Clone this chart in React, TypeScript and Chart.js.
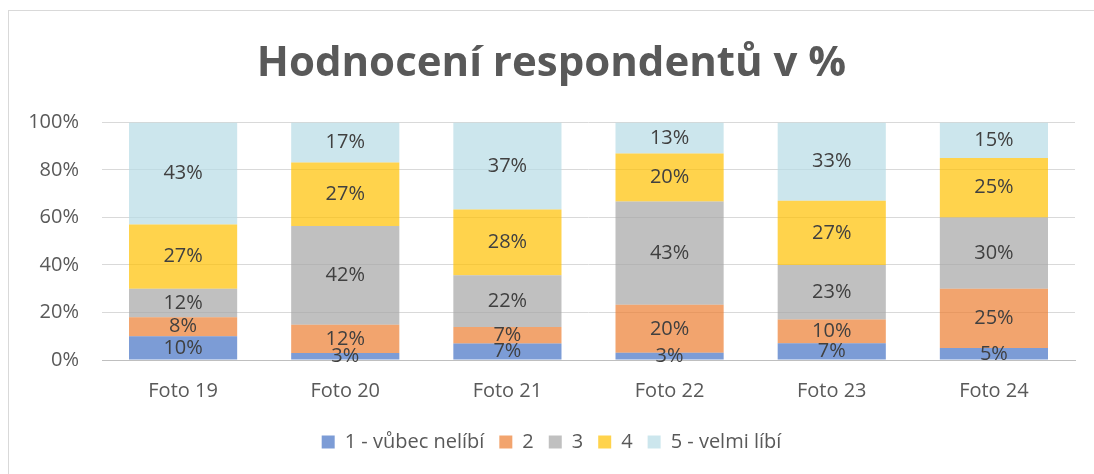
import React, { useEffect, useRef } from "react";
import { Chart, registerables } from "chart.js";

Chart.register(...registerables);

const categories = ["Foto 19", "Foto 20", "Foto 21", "Foto 22", "Foto 23", "Foto 24"];
const seriesNames = ["1 - vůbec nelíbí", "2", "3", "4", "5 - velmi líbí"];
const s1 = [10, 3, 7, 3, 7, 5];
const s2 = [8, 12, 7, 20, 10, 25];
const s3 = [12, 42, 22, 43, 23, 30];
const s4 = [27, 27, 28, 20, 27, 25];
const s5 = [43, 17, 37, 13, 33, 15];
const yTicks = [0, 20, 40, 60, 80, 100];
const titleText = "Hodnocení respondentů v %";

const colors = [
  "rgba(68,114,196,0.7)",
  "rgba(237,125,49,0.7)",
  "rgba(165,165,165,0.7)",
  "rgba(255,192,0,0.7)",
  "rgba(183,219,229,0.7)",
];

const FONT = "'Open Sans', sans-serif";
const W = 1085;
const H = 463;

if (typeof document !== "undefined") {
  document.documentElement.style.overflow = "hidden";
  document.body.style.overflow = "hidden";
  document.body.style.margin = "0";
}

export default function App() {
  const ref = useRef<HTMLCanvasElement | null>(null);

  useEffect(() => {
    const raw = [s1, s2, s3, s4, s5];
    const totals = categories.map((_, i) => raw.reduce((a, s) => a + s[i], 0));
    const datasets = raw.map((s, k) => ({
      label: seriesNames[k],
      data: s.map((v, i) => (v / totals[i]) * 100),
      rawValues: s,
      backgroundColor: colors[k],
      borderWidth: 0,
      barPercentage: 0.667,
      categoryPercentage: 1,
    }));

    const labelPlugin = {
      id: "segLabels",
      afterDatasetsDraw(chart: any) {
        const ctx = chart.ctx;
        ctx.save();
        ctx.font = `20px ${FONT}`;
        ctx.fillStyle = "#404040";
        ctx.textAlign = "center";
        ctx.textBaseline = "middle";
        chart.data.datasets.forEach((ds: any, di: number) => {
          const meta = chart.getDatasetMeta(di);
          meta.data.forEach((el: any, i: number) => {
            const y = (el.y + el.base) / 2;
            ctx.fillText(ds.rawValues[i] + "%", el.x, y);
          });
        });
        ctx.restore();
      },
    };

    const chart = new Chart(ref.current as HTMLCanvasElement, {
      type: "bar",
      data: { labels: categories, datasets: datasets as any },
      plugins: [labelPlugin],
      options: {
        animation: false,
        responsive: false,
        maintainAspectRatio: false,
        devicePixelRatio: 1,
        layout: { padding: { left: 0, right: 0, top: 0, bottom: 12 } },
        plugins: {
          tooltip: { enabled: false },
          title: {
            display: true,
            text: titleText,
            color: "#595959",
            font: { family: FONT, size: 42, weight: "bold" },
            padding: { top: 28, bottom: 33 },
          },
          legend: {
            position: "bottom",
            labels: {
              color: "#595959",
              font: { family: FONT, size: 20 },
              boxWidth: 13,
              boxHeight: 13,
              padding: 15,
            },
          },
        },
        scales: {
          x: {
            stacked: true,
            grid: { display: false, drawTicks: false },
            border: { display: true, color: "#bfbfbf", width: 1 },
            ticks: { color: "#595959", font: { family: FONT, size: 20 }, padding: 19 },
            afterFit(scale: any) {
              scale.height = 57;
            },
          },
          y: {
            stacked: true,
            min: 0,
            max: 100,
            afterBuildTicks(scale: any) {
              scale.ticks = yTicks.map((v) => ({ value: v }));
            },
            grid: { color: "#d9d9d9", drawTicks: false },
            border: { display: false },
            ticks: {
              color: "#595959",
              font: { family: FONT, size: 20 },
              padding: 23,
              callback: (v: any) => v + "%",
            },
            afterFit(scale: any) {
              scale.width = 93;
            },
          },
          yR: {
            position: "right",
            min: 0,
            max: 100,
            grid: { display: false, drawTicks: false },
            border: { display: false },
            ticks: { display: false },
            afterFit(scale: any) {
              scale.width = 19;
            },
          },
        },
      },
    });
    return () => chart.destroy();
  }, []);

  return (
    <div
      style={{
        position: "absolute",
        left: 8,
        top: 10,
        width: 1086,
        height: 464,
        borderTop: "1px solid #d9d9d9",
        borderLeft: "1px solid #d9d9d9",
        boxSizing: "border-box",
        overflow: "hidden",
      }}
    >
      <canvas ref={ref} width={W} height={H} style={{ display: "block", width: W, height: H }} />
    </div>
  );
}
